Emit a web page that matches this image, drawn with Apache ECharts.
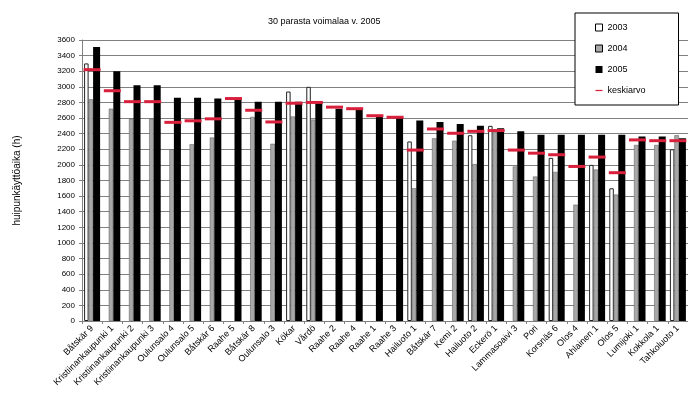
<!DOCTYPE html>
<html><head><meta charset="utf-8">
<script src="https://cdn.jsdelivr.net/npm/echarts@6/dist/echarts.min.js"></script>
<style>html,body{margin:0;padding:0;background:#fff}#c{width:688px;height:414px}</style>
</head><body><div id="c"></div>
<script>
const categories = ["Båtskär 9","Kristiinankaupunki 1","Kristiinankaupunki 2","Kristiinankaupunki 3","Oulunsalo 4","Oulunsalo 5","Båtskär 6","Raahe 5","Båtskär 8","Oulunsalo 3","Kökar","Vårdö","Raahe 2","Raahe 4","Raahe 1","Raahe 3","Hailuoto 1","Båtskär 7","Kemi 2","Hailuoto 2","Eckerö 1","Lammasoaivi 3","Pori","Korsnäs 6","Olos 4","Ahlainen 1","Olos 5","Lumijoki 1","Kokkola 1","Tahkoluoto 1"];
const v2003 = [3300,null,null,null,null,null,null,null,null,null,2940,3000,null,null,null,null,2300,null,null,2380,2500,null,null,2090,null,2000,1700,null,null,2200];
const v2004 = [2840,2720,2590,2590,2200,2265,2350,null,2615,2270,2620,2580,null,null,null,null,1700,2340,2310,2010,2420,1980,1850,1910,1490,1940,1620,2255,2255,2380];
const v2005 = [3510,3200,3020,3020,2860,2860,2850,2840,2810,2810,2810,2820,2720,2720,2630,2610,2570,2550,2525,2500,2470,2430,2385,2385,2385,2385,2385,2365,2365,2340];
const keskiarvo = [3220,2950,2810,2810,2545,2565,2590,2850,2700,2550,2790,2800,2740,2720,2630,2610,2190,2460,2405,2430,2440,2190,2150,2130,1980,2100,1900,2320,2310,2310];
const yTicks = {min:0, max:3600, step:200};

const chart = echarts.init(document.getElementById('c'), null, {renderer:'canvas'});
const FONT = 'Liberation Sans, Arial, sans-serif';
chart.setOption({
  animation:false,
  textStyle:{fontFamily:FONT},
  title:{text:'30 parasta voimalaa v. 2005', left:263, top:12,
    textStyle:{fontSize:9, fontWeight:'normal', color:'#000', fontFamily:FONT}},
  legend:{orient:'vertical', left:575, top:13, padding:[10,33,10,20],
    backgroundColor:'#fff', borderColor:'#000', borderWidth:1,
    itemWidth:7, itemHeight:7, itemGap:12,
    textStyle:{fontSize:9, color:'#000', fontFamily:FONT},
    data:[
      {name:'2003', icon:'rect', itemStyle:{color:'#fff', borderColor:'#000', borderWidth:1}},
      {name:'2004', icon:'rect', itemStyle:{color:'#a8a8a8', borderColor:'#000', borderWidth:1}},
      {name:'2005', icon:'rect', itemStyle:{color:'#000'}},
      {name:'keskiarvo', icon:'path://M0,0 L14,0 L14,2.5 L0,2.5 Z', itemStyle:{color:'#d8203c'}}
    ]},
  grid:{left:82, right:0, top:40, bottom:93, containLabel:false},
  xAxis:{type:'category', data:categories,
    axisLine:{lineStyle:{color:'#808080'}},
    axisTick:{show:true, length:3, lineStyle:{color:'#808080'}},
    axisLabel:{interval:0, rotate:45, fontSize:9, color:'#000', margin:6, fontFamily:FONT}},
  yAxis:{type:'value', min:yTicks.min, max:yTicks.max, interval:yTicks.step,
    name:'huipunkäyttöaika (h)', nameLocation:'middle', nameGap:60, nameRotate:90,
    nameTextStyle:{fontSize:10, color:'#000', fontFamily:FONT},
    axisLine:{show:true, lineStyle:{color:'#808080'}},
    axisTick:{show:true, length:3, lineStyle:{color:'#808080'}},
    splitLine:{lineStyle:{color:'#808080', width:1}},
    axisLabel:{fontSize:8, color:'#000', margin:7, fontFamily:FONT, formatter:v=>String(v)}},
  series:[
    {name:'2003', type:'bar', data:v2003, barWidth:4.5, barGap:'0%',
      itemStyle:{color:'#fff', borderColor:'#222', borderWidth:1}},
    {name:'2004', type:'bar', data:v2004, barWidth:4.5, barGap:'0%',
      itemStyle:{color:'#a8a8a8', borderColor:'#555', borderWidth:0.5}},
    {name:'2005', type:'bar', data:v2005, barWidth:7, barGap:'0%',
      itemStyle:{color:'#000'}},
    {name:'keskiarvo', type:'line', data:keskiarvo, symbol:'rect', symbolSize:[17,3],
      lineStyle:{opacity:0}, itemStyle:{color:'#d8203c'}, z:5}
  ]
});
</script></body></html>
